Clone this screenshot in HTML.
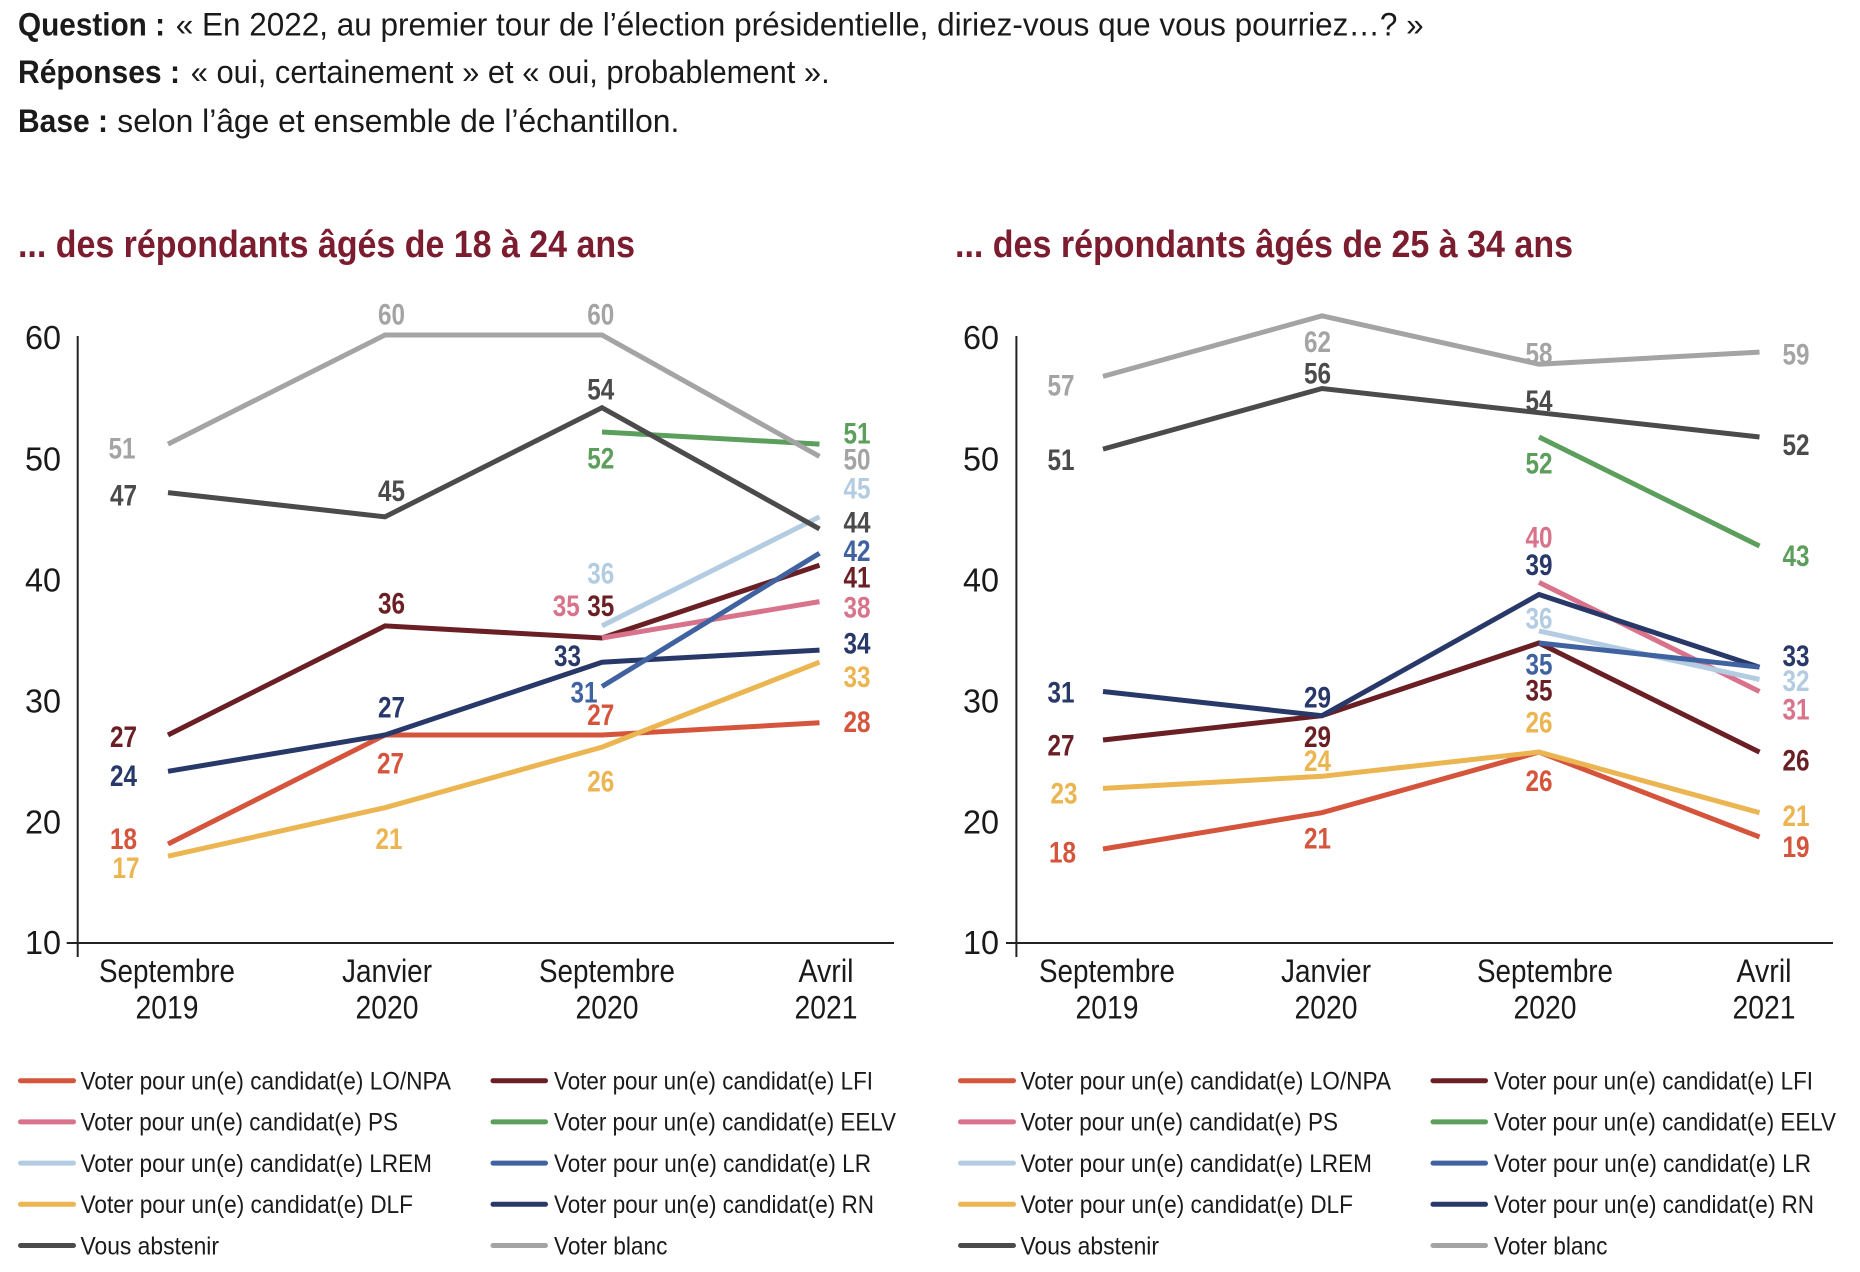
<!DOCTYPE html>
<html><head><meta charset="utf-8"><style>
html,body{margin:0;padding:0;background:#fff;}
svg{display:block;font-family:"Liberation Sans",Arial,sans-serif;}
.lb{font-weight:bold;font-size:30px;}
.tk{font-size:32px;fill:#1a1a1a;}
.tv{font-size:33px;fill:#1a1a1a;}
.lg{font-size:25px;fill:#1a1a1a;}
</style></head><body>
<svg width="1860" height="1272" viewBox="0 0 1860 1272" xmlns="http://www.w3.org/2000/svg">
<!-- Header -->
<g fill="#1a1a1a" font-size="32">
<text x="18" y="35.5" font-weight="bold" textLength="147" lengthAdjust="spacingAndGlyphs">Question :</text>
<text x="175.7" y="35.5" textLength="1248" lengthAdjust="spacingAndGlyphs">« En 2022, au premier tour de l’élection présidentielle, diriez-vous que vous pourriez…? »</text>
<text x="18" y="83" font-weight="bold" textLength="162" lengthAdjust="spacingAndGlyphs">Réponses :</text>
<text x="190.7" y="83" textLength="639" lengthAdjust="spacingAndGlyphs">« oui, certainement » et « oui, probablement ».</text>
<text x="18" y="132" font-weight="bold" textLength="90" lengthAdjust="spacingAndGlyphs">Base :</text>
<text x="117.3" y="132" textLength="562" lengthAdjust="spacingAndGlyphs">selon l’âge et ensemble de l’échantillon.</text>
</g>
<g fill="#7b1c2f" font-size="38" font-weight="bold">
<text x="18" y="257" textLength="617" lengthAdjust="spacingAndGlyphs">... des répondants âgés de 18 à 24 ans</text>
<text x="955" y="257" textLength="618" lengthAdjust="spacingAndGlyphs">... des répondants âgés de 25 à 34 ans</text>
</g>

<!-- Axes -->
<g stroke="#222" stroke-width="2" fill="none">
<line x1="77.7" y1="336" x2="77.7" y2="957"/>
<line x1="66.7" y1="943" x2="894" y2="943"/>
<line x1="1016.4" y1="336" x2="1016.4" y2="957"/>
<line x1="1006" y1="943" x2="1833" y2="943"/>
</g>
<!-- Tick labels -->
<g class="tv">
<text x="25" y="349" textLength="36" lengthAdjust="spacingAndGlyphs">60</text><text x="25" y="470.5" textLength="36" lengthAdjust="spacingAndGlyphs">50</text><text x="25" y="591.5" textLength="36" lengthAdjust="spacingAndGlyphs">40</text><text x="25" y="712.5" textLength="36" lengthAdjust="spacingAndGlyphs">30</text><text x="25" y="833.5" textLength="36" lengthAdjust="spacingAndGlyphs">20</text><text x="25" y="954" textLength="36" lengthAdjust="spacingAndGlyphs">10</text>
<text x="963" y="349" textLength="36" lengthAdjust="spacingAndGlyphs">60</text><text x="963" y="470.5" textLength="36" lengthAdjust="spacingAndGlyphs">50</text><text x="963" y="591.5" textLength="36" lengthAdjust="spacingAndGlyphs">40</text><text x="963" y="712.5" textLength="36" lengthAdjust="spacingAndGlyphs">30</text><text x="963" y="833.5" textLength="36" lengthAdjust="spacingAndGlyphs">20</text><text x="963" y="954" textLength="36" lengthAdjust="spacingAndGlyphs">10</text>
</g>
<!-- X labels -->
<g class="tk">
<text x="99" y="982" textLength="136" lengthAdjust="spacingAndGlyphs">Septembre</text>
<text x="135.5" y="1018.5" textLength="63" lengthAdjust="spacingAndGlyphs">2019</text>
<text x="342" y="982" textLength="90" lengthAdjust="spacingAndGlyphs">Janvier</text>
<text x="355.5" y="1018.5" textLength="63" lengthAdjust="spacingAndGlyphs">2020</text>
<text x="539" y="982" textLength="136" lengthAdjust="spacingAndGlyphs">Septembre</text>
<text x="575.5" y="1018.5" textLength="63" lengthAdjust="spacingAndGlyphs">2020</text>
<text x="798.5" y="982" textLength="55" lengthAdjust="spacingAndGlyphs">Avril</text>
<text x="794.5" y="1018.5" textLength="63" lengthAdjust="spacingAndGlyphs">2021</text>

<text x="1039" y="982" textLength="136" lengthAdjust="spacingAndGlyphs">Septembre</text>
<text x="1075.5" y="1018.5" textLength="63" lengthAdjust="spacingAndGlyphs">2019</text>
<text x="1281" y="982" textLength="90" lengthAdjust="spacingAndGlyphs">Janvier</text>
<text x="1294.5" y="1018.5" textLength="63" lengthAdjust="spacingAndGlyphs">2020</text>
<text x="1477" y="982" textLength="136" lengthAdjust="spacingAndGlyphs">Septembre</text>
<text x="1513.5" y="1018.5" textLength="63" lengthAdjust="spacingAndGlyphs">2020</text>
<text x="1736.5" y="982" textLength="55" lengthAdjust="spacingAndGlyphs">Avril</text>
<text x="1732.5" y="1018.5" textLength="63" lengthAdjust="spacingAndGlyphs">2021</text>
</g>

<!-- Left chart series -->
<g fill="none" stroke-width="5" stroke-linejoin="miter">
<polyline stroke="#d5553c" points="168,844 385,735 602,735 819.5,722.8"/>
<polyline stroke="#6a1f24" points="168,735 385,625.9 602,638 819.5,565.3"/>
<polyline stroke="#d8738b" points="602,638 819.5,601.6"/>
<polyline stroke="#5c9e5c" points="602,432 819.5,444.1"/>
<polyline stroke="#b4cce2" points="602,625.9 819.5,516.8"/>
<polyline stroke="#ebb551" points="168,856.2 385,807.7 602,747.1 819.5,662.2"/>
<polyline stroke="#283868" points="168,771.3 385,735 602,662.2 819.5,650.1"/>
<polyline stroke="#4062a0" points="602,686.5 819.5,553.2"/>
<polyline stroke="#4b4b4b" points="168,492.6 385,516.8 602,407.7 819.5,528.9"/>
<polyline stroke="#a4a4a4" points="168,444.1 385,335 602,335 819.5,456.4"/>
</g>
<!-- Right chart series -->
<g fill="none" stroke-width="5" stroke-linejoin="miter">
<polyline stroke="#d5553c" points="1103,849 1322,812.7 1539,752.1 1759.5,836.9"/>
<polyline stroke="#6a1f24" points="1103,740 1322,715.7 1539,643 1759.5,752.1"/>
<polyline stroke="#d8738b" points="1539,582.4 1759.5,691.5"/>
<polyline stroke="#5c9e5c" points="1539,437 1759.5,546"/>
<polyline stroke="#b4cce2" points="1539,630.9 1759.5,679.4"/>
<polyline stroke="#ebb551" points="1103,788.4 1322,776.3 1539,752.1 1759.5,812.7"/>
<polyline stroke="#283868" points="1103,691.5 1322,715.7 1539,594.5 1759.5,667.2"/>
<polyline stroke="#4062a0" points="1539,643 1759.5,667.2"/>
<polyline stroke="#4b4b4b" points="1103,449.1 1322,388.5 1539,412.7 1759.5,437"/>
<polyline stroke="#a4a4a4" points="1103,376.4 1322,315.8 1539,364.2 1759.5,352.1"/>
</g>

<!-- Left data labels -->
<g class="lb" transform="translate(0,1)">
<g fill="#a4a4a4">
<text x="108.5" y="457.7" textLength="27" lengthAdjust="spacingAndGlyphs">51</text>
<text x="378" y="323.3" textLength="27" lengthAdjust="spacingAndGlyphs">60</text>
<text x="587.3" y="323.3" textLength="27" lengthAdjust="spacingAndGlyphs">60</text>
<text x="843.5" y="468.3" textLength="27" lengthAdjust="spacingAndGlyphs">50</text>
</g>
<g fill="#4b4b4b">
<text x="110" y="504.3" textLength="27" lengthAdjust="spacingAndGlyphs">47</text>
<text x="378" y="500" textLength="27" lengthAdjust="spacingAndGlyphs">45</text>
<text x="587.3" y="398.3" textLength="27" lengthAdjust="spacingAndGlyphs">54</text>
<text x="843.5" y="531.7" textLength="27" lengthAdjust="spacingAndGlyphs">44</text>
</g>
<g fill="#5c9e5c">
<text x="587.3" y="467.7" textLength="27" lengthAdjust="spacingAndGlyphs">52</text>
<text x="843.5" y="442.7" textLength="27" lengthAdjust="spacingAndGlyphs">51</text>
</g>
<g fill="#b4cce2">
<text x="587.3" y="582.3" textLength="27" lengthAdjust="spacingAndGlyphs">36</text>
<text x="843.5" y="497.3" textLength="27" lengthAdjust="spacingAndGlyphs">45</text>
</g>
<g fill="#4062a0">
<text x="570.5" y="701.7" textLength="27" lengthAdjust="spacingAndGlyphs">31</text>
<text x="843.5" y="560" textLength="27" lengthAdjust="spacingAndGlyphs">42</text>
</g>
<g fill="#6a1f24">
<text x="110" y="746" textLength="27" lengthAdjust="spacingAndGlyphs">27</text>
<text x="378" y="612.7" textLength="27" lengthAdjust="spacingAndGlyphs">36</text>
<text x="587.3" y="615" textLength="27" lengthAdjust="spacingAndGlyphs">35</text>
<text x="843.5" y="586.7" textLength="27" lengthAdjust="spacingAndGlyphs">41</text>
</g>
<g fill="#d8738b">
<text x="552.7" y="615" textLength="27" lengthAdjust="spacingAndGlyphs">35</text>
<text x="843.5" y="616.7" textLength="27" lengthAdjust="spacingAndGlyphs">38</text>
</g>
<g fill="#283868">
<text x="110" y="785" textLength="27" lengthAdjust="spacingAndGlyphs">24</text>
<text x="378" y="716.7" textLength="27" lengthAdjust="spacingAndGlyphs">27</text>
<text x="554" y="665" textLength="27" lengthAdjust="spacingAndGlyphs">33</text>
<text x="843.5" y="652.7" textLength="27" lengthAdjust="spacingAndGlyphs">34</text>
</g>
<g fill="#ebb551">
<text x="112.5" y="877" textLength="27" lengthAdjust="spacingAndGlyphs">17</text>
<text x="375.5" y="848" textLength="27" lengthAdjust="spacingAndGlyphs">21</text>
<text x="587.3" y="790.7" textLength="27" lengthAdjust="spacingAndGlyphs">26</text>
<text x="843.5" y="686" textLength="27" lengthAdjust="spacingAndGlyphs">33</text>
</g>
<g fill="#d5553c">
<text x="110" y="848" textLength="27" lengthAdjust="spacingAndGlyphs">18</text>
<text x="377" y="772.7" textLength="27" lengthAdjust="spacingAndGlyphs">27</text>
<text x="587.3" y="724" textLength="27" lengthAdjust="spacingAndGlyphs">27</text>
<text x="843.5" y="731" textLength="27" lengthAdjust="spacingAndGlyphs">28</text>
</g>
</g>

<!-- Right data labels -->
<g class="lb" transform="translate(0,1)">
<g fill="#a4a4a4">
<text x="1047.5" y="394.3" textLength="27" lengthAdjust="spacingAndGlyphs">57</text>
<text x="1304" y="351" textLength="27" lengthAdjust="spacingAndGlyphs">62</text>
<text x="1525.5" y="362.7" textLength="27" lengthAdjust="spacingAndGlyphs">58</text>
<text x="1782.5" y="363.3" textLength="27" lengthAdjust="spacingAndGlyphs">59</text>
</g>
<g fill="#4b4b4b">
<text x="1047.5" y="469" textLength="27" lengthAdjust="spacingAndGlyphs">51</text>
<text x="1304" y="382.7" textLength="27" lengthAdjust="spacingAndGlyphs">56</text>
<text x="1525.5" y="410" textLength="27" lengthAdjust="spacingAndGlyphs">54</text>
<text x="1782.5" y="454" textLength="27" lengthAdjust="spacingAndGlyphs">52</text>
</g>
<g fill="#5c9e5c">
<text x="1525.5" y="472.7" textLength="27" lengthAdjust="spacingAndGlyphs">52</text>
<text x="1782.5" y="565" textLength="27" lengthAdjust="spacingAndGlyphs">43</text>
</g>
<g fill="#d8738b">
<text x="1525.5" y="546.7" textLength="27" lengthAdjust="spacingAndGlyphs">40</text>
<text x="1782.5" y="718.3" textLength="27" lengthAdjust="spacingAndGlyphs">31</text>
</g>
<g fill="#283868">
<text x="1047.5" y="701.7" textLength="27" lengthAdjust="spacingAndGlyphs">31</text>
<text x="1304" y="706.7" textLength="27" lengthAdjust="spacingAndGlyphs">29</text>
<text x="1525.5" y="574" textLength="27" lengthAdjust="spacingAndGlyphs">39</text>
<text x="1782.5" y="665" textLength="27" lengthAdjust="spacingAndGlyphs">33</text>
</g>
<g fill="#b4cce2">
<text x="1525.5" y="627.3" textLength="27" lengthAdjust="spacingAndGlyphs">36</text>
<text x="1782.5" y="690" textLength="27" lengthAdjust="spacingAndGlyphs">32</text>
</g>
<g fill="#4062a0">
<text x="1525.5" y="673.3" textLength="27" lengthAdjust="spacingAndGlyphs">35</text>
</g>
<g fill="#6a1f24">
<text x="1047.5" y="754.3" textLength="27" lengthAdjust="spacingAndGlyphs">27</text>
<text x="1304" y="746" textLength="27" lengthAdjust="spacingAndGlyphs">29</text>
<text x="1525.5" y="699.3" textLength="27" lengthAdjust="spacingAndGlyphs">35</text>
<text x="1782.5" y="769.3" textLength="27" lengthAdjust="spacingAndGlyphs">26</text>
</g>
<g fill="#ebb551">
<text x="1050.5" y="802.7" textLength="27" lengthAdjust="spacingAndGlyphs">23</text>
<text x="1304" y="770" textLength="27" lengthAdjust="spacingAndGlyphs">24</text>
<text x="1525.5" y="731.7" textLength="27" lengthAdjust="spacingAndGlyphs">26</text>
<text x="1782.5" y="825" textLength="27" lengthAdjust="spacingAndGlyphs">21</text>
</g>
<g fill="#d5553c">
<text x="1049" y="861.7" textLength="27" lengthAdjust="spacingAndGlyphs">18</text>
<text x="1304" y="847.3" textLength="27" lengthAdjust="spacingAndGlyphs">21</text>
<text x="1525.5" y="790" textLength="27" lengthAdjust="spacingAndGlyphs">26</text>
<text x="1782.5" y="856" textLength="27" lengthAdjust="spacingAndGlyphs">19</text>
</g>
</g>

<!-- Legends -->
<g stroke-width="5" stroke-linecap="round">
<line x1="20.5" y1="1080.7" x2="73.5" y2="1080.7" stroke="#d5553c"/>
<line x1="20.5" y1="1121.9" x2="73.5" y2="1121.9" stroke="#d8738b"/>
<line x1="20.5" y1="1163.1" x2="73.5" y2="1163.1" stroke="#b4cce2"/>
<line x1="20.5" y1="1204.3" x2="73.5" y2="1204.3" stroke="#ebb551"/>
<line x1="20.5" y1="1245.5" x2="73.5" y2="1245.5" stroke="#4b4b4b"/>
<line x1="493" y1="1080.7" x2="545.5" y2="1080.7" stroke="#6a1f24"/>
<line x1="493" y1="1121.9" x2="545.5" y2="1121.9" stroke="#5c9e5c"/>
<line x1="493" y1="1163.1" x2="545.5" y2="1163.1" stroke="#4062a0"/>
<line x1="493" y1="1204.3" x2="545.5" y2="1204.3" stroke="#283868"/>
<line x1="493" y1="1245.5" x2="545.5" y2="1245.5" stroke="#a4a4a4"/>

<line x1="960.5" y1="1080.7" x2="1013.5" y2="1080.7" stroke="#d5553c"/>
<line x1="960.5" y1="1121.9" x2="1013.5" y2="1121.9" stroke="#d8738b"/>
<line x1="960.5" y1="1163.1" x2="1013.5" y2="1163.1" stroke="#b4cce2"/>
<line x1="960.5" y1="1204.3" x2="1013.5" y2="1204.3" stroke="#ebb551"/>
<line x1="960.5" y1="1245.5" x2="1013.5" y2="1245.5" stroke="#4b4b4b"/>
<line x1="1433" y1="1080.7" x2="1485.5" y2="1080.7" stroke="#6a1f24"/>
<line x1="1433" y1="1121.9" x2="1485.5" y2="1121.9" stroke="#5c9e5c"/>
<line x1="1433" y1="1163.1" x2="1485.5" y2="1163.1" stroke="#4062a0"/>
<line x1="1433" y1="1204.3" x2="1485.5" y2="1204.3" stroke="#283868"/>
<line x1="1433" y1="1245.5" x2="1485.5" y2="1245.5" stroke="#a4a4a4"/>
</g>
<g class="lg">
<text x="80.5" y="1089.5" textLength="370.5" lengthAdjust="spacingAndGlyphs">Voter pour un(e) candidat(e) LO/NPA</text>
<text x="80.5" y="1130.7" textLength="317.5" lengthAdjust="spacingAndGlyphs">Voter pour un(e) candidat(e) PS</text>
<text x="80.5" y="1171.9" textLength="351.5" lengthAdjust="spacingAndGlyphs">Voter pour un(e) candidat(e) LREM</text>
<text x="80.5" y="1213.1" textLength="332.5" lengthAdjust="spacingAndGlyphs">Voter pour un(e) candidat(e) DLF</text>
<text x="80.5" y="1254.3" textLength="138.5" lengthAdjust="spacingAndGlyphs">Vous abstenir</text>
<text x="554" y="1089.5" textLength="319" lengthAdjust="spacingAndGlyphs">Voter pour un(e) candidat(e) LFI</text>
<text x="554" y="1130.7" textLength="342" lengthAdjust="spacingAndGlyphs">Voter pour un(e) candidat(e) EELV</text>
<text x="554" y="1171.9" textLength="317" lengthAdjust="spacingAndGlyphs">Voter pour un(e) candidat(e) LR</text>
<text x="554" y="1213.1" textLength="320" lengthAdjust="spacingAndGlyphs">Voter pour un(e) candidat(e) RN</text>
<text x="554" y="1254.3" textLength="113.5" lengthAdjust="spacingAndGlyphs">Voter blanc</text>

<text x="1020.5" y="1089.5" textLength="370.5" lengthAdjust="spacingAndGlyphs">Voter pour un(e) candidat(e) LO/NPA</text>
<text x="1020.5" y="1130.7" textLength="317.5" lengthAdjust="spacingAndGlyphs">Voter pour un(e) candidat(e) PS</text>
<text x="1020.5" y="1171.9" textLength="351.5" lengthAdjust="spacingAndGlyphs">Voter pour un(e) candidat(e) LREM</text>
<text x="1020.5" y="1213.1" textLength="332.5" lengthAdjust="spacingAndGlyphs">Voter pour un(e) candidat(e) DLF</text>
<text x="1020.5" y="1254.3" textLength="138.5" lengthAdjust="spacingAndGlyphs">Vous abstenir</text>
<text x="1494" y="1089.5" textLength="319" lengthAdjust="spacingAndGlyphs">Voter pour un(e) candidat(e) LFI</text>
<text x="1494" y="1130.7" textLength="342" lengthAdjust="spacingAndGlyphs">Voter pour un(e) candidat(e) EELV</text>
<text x="1494" y="1171.9" textLength="317" lengthAdjust="spacingAndGlyphs">Voter pour un(e) candidat(e) LR</text>
<text x="1494" y="1213.1" textLength="320" lengthAdjust="spacingAndGlyphs">Voter pour un(e) candidat(e) RN</text>
<text x="1494" y="1254.3" textLength="113.5" lengthAdjust="spacingAndGlyphs">Voter blanc</text>
</g>
</svg>
</body></html>
